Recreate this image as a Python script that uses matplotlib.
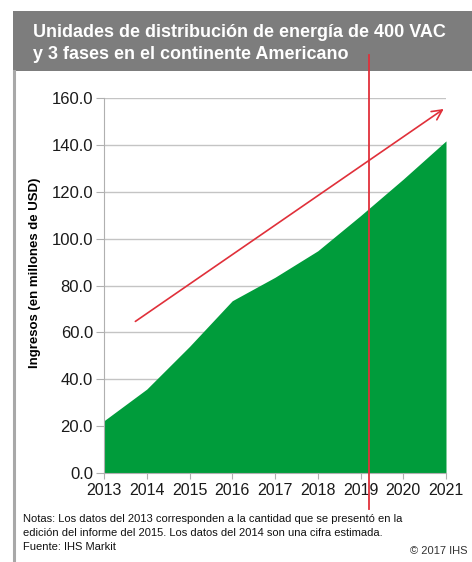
import matplotlib.pyplot as plt
from matplotlib.patches import Rectangle
from matplotlib.lines import Line2D

years = [2013, 2014, 2015, 2016, 2017, 2018, 2019, 2020, 2021]
revenue = [22.3, 35.8, 54.0, 73.5, 83.5, 94.8, 109.8, 125.4, 141.7]
y_ticks = [0, 20, 40, 60, 80, 100, 120, 140, 160]

title = "Unidades de distribución de energía de 400 VAC\ny 3 fases en el continente Americano"
y_label = "Ingresos (en millones de USD)"
notes = ("Notas: Los datos del 2013 corresponden a la cantidad que se presentó en la\n"
         "edición del informe del 2015. Los datos del 2014 son una cifra estimada.\n"
         "Fuente: IHS Markit")
copyright_text = "© 2017 IHS"

plt.rcParams['font.family'] = ['Liberation Sans', 'DejaVu Sans']

fig = plt.figure(figsize=(4.72, 5.62), dpi=100)
W, H = 472, 562

# frame: gray header band and left border
fig.patches.append(Rectangle((12.7 / W, 1 - 71 / H), 1, 60 / H, transform=fig.transFigure,
                             facecolor="#7d7d7d", edgecolor="none", zorder=0))
fig.add_artist(Line2D([14 / W, 14 / W], [0, 1 - 71 / H], transform=fig.transFigure,
                      color="#a8a8a8", lw=2.2))
fig.text(33 / W, 1 - 24 / H, title, color="white", fontsize=13, fontweight="bold",
         va="top", ha="left", linespacing=1.4)

ax = fig.add_axes([104 / W, 1 - 473 / H, 342 / W, 375 / H])
ax.fill_between(years, revenue, 0, color="#009c3b", linewidth=0, zorder=2)
ax.set_xlim(2013, 2021)
ax.set_ylim(0, 160)
ax.set_xticks(years)
ax.set_yticks(y_ticks)
ax.set_yticklabels([f"{v:.1f}" for v in y_ticks])
ax.grid(axis="y", color="#c4c4c4", lw=1.0, zorder=1)
for s in ["top", "right"]:
    ax.spines[s].set_visible(False)
for s in ["left", "bottom"]:
    ax.spines[s].set_color("#b0b0b0")
ax.tick_params(axis="y", length=6, color="#b0b0b0", labelsize=12, pad=2, labelcolor="#1a1a1a")
ax.tick_params(axis="x", length=4, color="#b0b0b0", labelsize=11.5, pad=3, labelcolor="#1a1a1a")
ax.set_ylabel(y_label, fontsize=9.5, fontweight="bold")
ax.yaxis.set_label_coords(-0.185, 0.535)

# trend arrow
ax.annotate("", xy=(2021.0, 156), xytext=(2013.68, 64),
            arrowprops=dict(arrowstyle="->", color="#e0303a", lw=1.2,
                            mutation_scale=18), zorder=4)

# red vertical marker line spanning the figure
fig.add_artist(Line2D([369.3 / W, 369.3 / W], [1 - 509 / H, 1 - 55 / H],
                      transform=fig.transFigure, color="#e0303a", lw=1.3, zorder=5))

fig.text(23 / W, 1 - 514 / H, notes, fontsize=8, va="top", ha="left",
         linespacing=1.5, color="#111111")
fig.text(468 / W, 1 - 546 / H, copyright_text, fontsize=8, va="top", ha="right",
         color="#333333")

fig.savefig("out.png", dpi=100)
